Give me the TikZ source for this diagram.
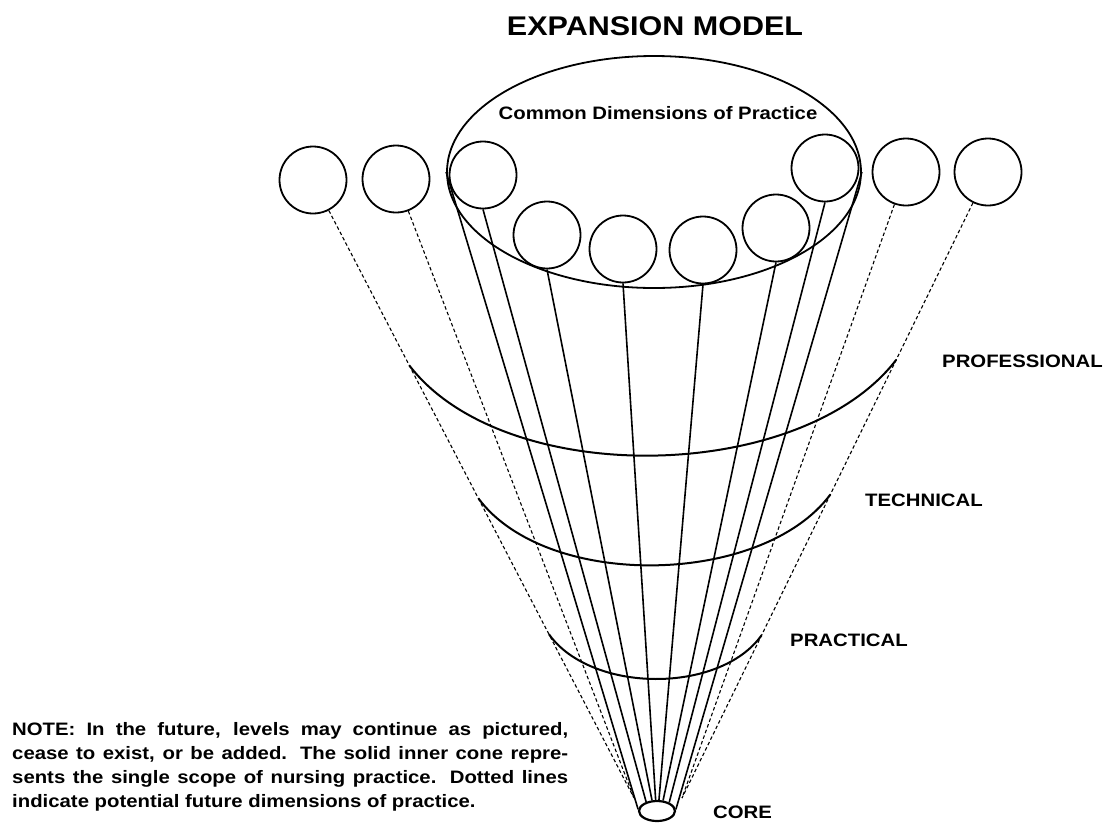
\documentclass[tikz,border=0pt]{standalone}
\usepackage{fontspec}
\usepackage{tikz}
\usetikzlibrary{shapes.geometric}
\usetikzlibrary{calc}
\newfontfamily\modelfont{Liberation Sans}[FakeStretch=1.13] % wide bold sans of the scan
\def\dimsize{67pt}
\def\levelsize{18}
\tikzset{
	dim/.style={circle, draw, line width=1.8pt, minimum size=\dimsize, inner sep=0pt},
	fan/.style={line width=1.6pt},
	future/.style={line width=1.1pt, dash pattern=on 3.5pt off 2.5pt},
	level/.style={line width=2pt},
	lbl/.style={font=\modelfont\bfseries\fontsize{\levelsize}{22}\selectfont, inner sep=0pt, anchor=west}
}

\begin{document}
\begin{tikzpicture}[x=1pt, y=-1pt]
	\useasboundingbox (0,0) rectangle (1113,823);
	\node[font=\modelfont\bfseries\fontsize{27}{30}\selectfont] (title) at (655,26) {EXPANSION MODEL};
	\node[draw, ellipse, line width=1.8pt, minimum width=414pt, minimum height=232pt, inner sep=0pt] (common) at (654,172) {};
	\node[font=\modelfont\bfseries\fontsize{18}{22}\selectfont] (commonlbl) at (658,113) {Common Dimensions of Practice};
	\node[dim] (d1) at (313,180) {};
	\node[dim] (d2) at (396,179) {};
	\node[dim] (d3) at (483,175) {};
	\node[dim] (d4) at (547,235) {};
	\node[dim] (d5) at (623,249) {};
	\node[dim] (d6) at (703,250) {};
	\node[dim] (d7) at (776,228) {};
	\node[dim] (d8) at (825,168) {};
	\node[dim] (d9) at (906,172) {};
	\node[dim] (d10) at (988,172) {};
	\node[draw, ellipse, line width=2.2pt, minimum width=36pt, minimum height=20pt, inner sep=0pt] (core) at (657,811) {};
	\coordinate (fl) at (634,798);
	\coordinate (fr) at (682,798);
	\draw[fan] (common.west) -- (core.175);
	\draw[fan] (d3.south) -- (core.140);
	\draw[fan] (d4.south) -- (core.115);
	\draw[fan] (d5.south) -- (core.97);
	\draw[fan] (d6.south) -- (core.80);
	\draw[fan] (d7.south) -- (core.60);
	\draw[fan] (d8.south) -- (core.35);
	\draw[fan] (common.east) -- (core.5);
	\draw[future] (d1) -- (fl);
	\draw[future] (d2) -- (fl);
	\draw[future] (d9) -- (fr);
	\draw[future] (d10) -- (fr);
	\coordinate (profl) at ($(d1)!0.3!(fl)$);
	\coordinate (profr) at ($(d10)!0.3!(fr)$);
	\coordinate (techl) at ($(d1)!0.515!(fl)$);
	\coordinate (techr) at ($(d10)!0.515!(fr)$);
	\coordinate (pracl) at ($(d1)!0.735!(fl)$);
	\coordinate (pracr) at ($(d10)!0.74!(fr)$);
	\draw[level] (profl) .. controls +(95,124) and +(-95,124) .. (profr);
	\draw[level] (techl) .. controls +(68,92) and +(-68,92) .. (techr);
	\draw[level] (pracl) .. controls +(42,59) and +(-42,59) .. (pracr);
	\node[lbl] (prof) at (942,361) {PROFESSIONAL};
	\node[lbl] (tech) at (865,500) {TECHNICAL};
	\node[lbl] (prac) at (790,640) {PRACTICAL};
	\node[lbl] (corelbl) at (713,812) {CORE};
	\node[anchor=north west, inner sep=0pt, text width=556pt, align=justify,
		font=\modelfont\bfseries\fontsize{18}{24}\selectfont] (note) at (12,722)
		{NOTE: In the future, levels may continue as pictured,\linebreak
		cease to exist, or be added. The solid inner cone repre-\linebreak
		sents the single scope of nursing practice. Dotted lines\linebreak
		indicate potential future dimensions of practice.};
\end{tikzpicture}
\end{document}
